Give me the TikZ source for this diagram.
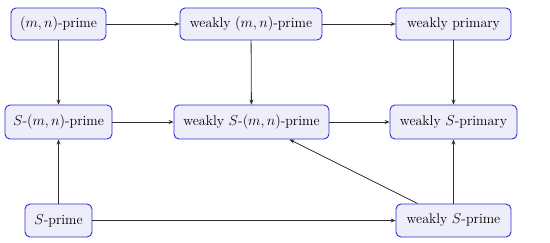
\documentclass[tikz,border=0pt]{standalone}
\usetikzlibrary{arrows.meta,calc}
\definecolor{bxborder}{RGB}{45,45,215}
\definecolor{bxfill}{RGB}{238,238,250}
\definecolor{lnc}{RGB}{45,45,45}
\begin{document}
\begin{tikzpicture}[x=1pt,y=-1pt,
  bx/.style={draw=bxborder,fill=bxfill,rounded corners=5pt,line width=0.9pt,inner sep=0pt,font=\fontsize{14}{16}\selectfont},
  arr/.style={draw=lnc,line width=0.8pt,-{Stealth[length=5pt,width=4pt]}}]
\useasboundingbox (0,0) rectangle (550,243);
\node[bx,minimum width=95pt,minimum height=32pt] (mn) at (58.5,24) {$(m,n)$-prime};
\node[bx,minimum width=142pt,minimum height=32pt] (wmn) at (251,24) {weakly $(m,n)$-prime};
\node[bx,minimum width=115pt,minimum height=32pt] (wp) at (453.5,24) {weakly primary};
\node[bx,minimum width=107pt,minimum height=34pt] (smn) at (58.5,122) {$S$-$(m,n)$-prime};
\node[bx,minimum width=155pt,minimum height=34pt] (wsmn) at (251.5,122) {weakly $S$-$(m,n)$-prime};
\node[bx,minimum width=127pt,minimum height=34pt] (wsp) at (453.5,122) {weakly $S$-primary};
\node[bx,minimum width=67pt,minimum height=33pt] (sp) at (58.5,220.5) {$S$-prime};
\node[bx,minimum width=115pt,minimum height=33pt] (wspr) at (453.5,220.5) {weakly $S$-prime};
\draw[arr] (mn) -- (wmn);
\draw[arr] (wmn) -- (wp);
\draw[arr] (mn) -- (smn);
\draw[arr] (wmn) -- (wsmn);
\draw[arr] (wp) -- (wsp);
\draw[arr] (smn) -- (wsmn);
\draw[arr] (wsmn) -- (wsp);
\draw[arr] (sp) -- (smn);
\draw[arr] (wspr) -- (wsp);
\draw[arr] (sp) -- (wspr);
\draw[arr] ($(wspr.north west)+(22,0)$) -- ($(wsmn.south)+(38,0)$);
\end{tikzpicture}
\end{document}
